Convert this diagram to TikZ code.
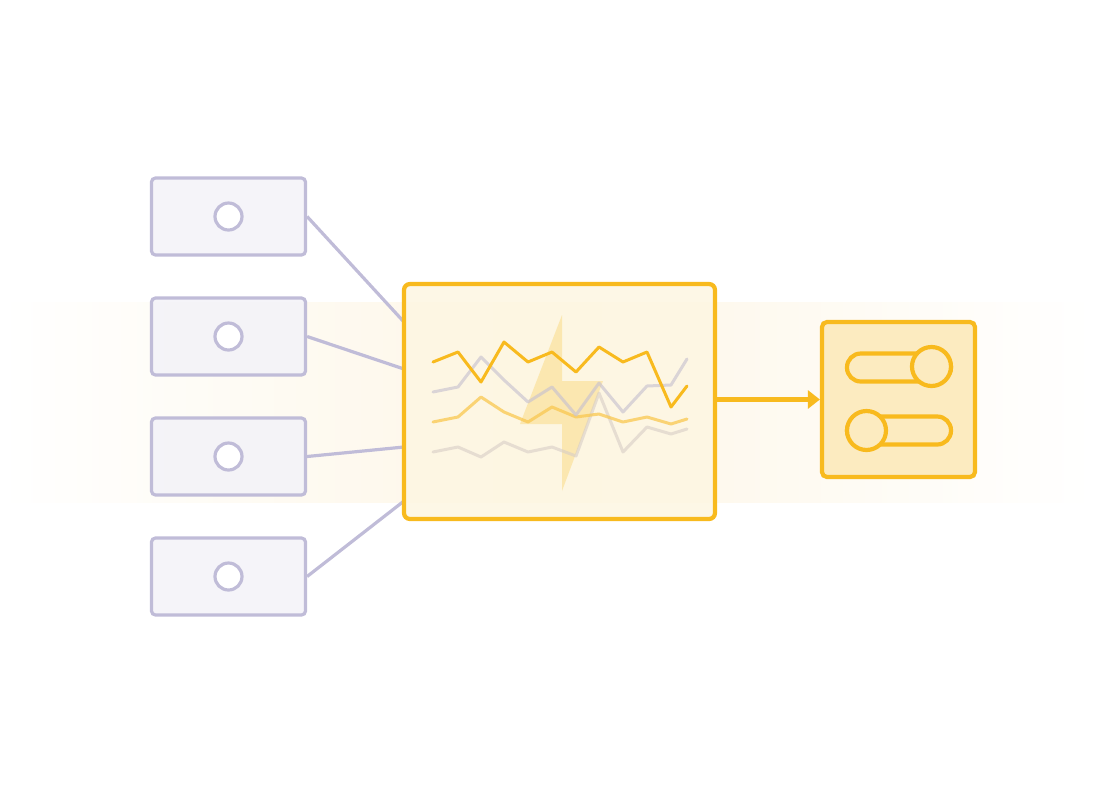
\documentclass[tikz,border=0pt]{standalone}
\usepackage{tikz}
\usetikzlibrary{arrows.meta, positioning}
\usepackage{xcolor}
\definecolor{srcline}{RGB}{192,188,216}
\definecolor{srcfill}{RGB}{244,243,248}
\definecolor{amber}{RGB}{248,186,30}
\definecolor{bandcream}{RGB}{253,246,230}
\definecolor{panelcream}{RGB}{253,246,226}
\definecolor{ctrlfill}{RGB}{252,235,192}
\definecolor{boltyellow}{RGB}{250,220,135}
\definecolor{greyline}{RGB}{200,194,208}
\definecolor{softyellow}{RGB}{249,200,80}
\definecolor{sandline}{RGB}{215,205,198}

\begin{document}
\begin{tikzpicture}[x=0.5pt, y=-0.5pt,
    srcbox/.style={draw=srcline, fill=srcfill, fill opacity=0.92, line width=1.6pt,
      rounded corners=2pt, minimum width=77pt, minimum height=38.5pt, inner sep=0pt},
    srcdot/.style={circle, draw=srcline, fill=white, line width=1.6pt,
      minimum size=13.5pt, inner sep=0pt},
    feed/.style={draw=srcline, line width=1.6pt},
    series/.style={line width=1.5pt, line join=round, line cap=round}]
  \useasboundingbox (0,0) rectangle (1094,800);
  % faded band behind everything
  \shade[left color=white, right color=white, middle color=bandcream]
    (0,302) rectangle (1094,502);

  % input sources
  \foreach \i/\y in {1/216.5,2/336.5,3/456.5,4/576.5} {
    \node[srcbox] (src\i) at (228.5,\y) {};
    \node[srcdot] (dot\i) at (src\i.center) {};
  }
  \foreach \i/\y in {1/322,2/369,3/447,4/501}
    \coordinate (in\i) at (404,\y);
  \foreach \i in {1,...,4}
    \draw[feed] (src\i.east) -- (in\i);

  % monitor panel
  \node[draw=amber, fill=panelcream, fill opacity=0.85, line width=2.1pt,
    rounded corners=3pt, minimum width=155.5pt, minimum height=117.5pt,
    inner sep=0pt] (panel) at (559.5,401.5) {};
  \fill[boltyellow, opacity=0.55] (562,315) -- (562,381) -- (603,381)
    -- (562,491) -- (562,424) -- (520,424) -- cycle;
  \draw[series, sandline, opacity=0.6] (433,452) -- (458,447) -- (481,457)
    -- (504,442) -- (528,452) -- (552,447) -- (576,456) -- (599,393)
    -- (623,452) -- (647,427) -- (671,434) -- (687,429);
  \draw[series, softyellow, opacity=0.75] (433,422) -- (458,417) -- (481,397)
    -- (504,412) -- (528,422) -- (552,407) -- (576,417) -- (599,414)
    -- (623,422) -- (647,417) -- (671,424) -- (687,419);
  \draw[series, greyline, opacity=0.65] (433,392) -- (458,387) -- (481,357)
    -- (504,380) -- (528,402) -- (552,387) -- (576,415) -- (599,383)
    -- (623,412) -- (647,386) -- (671,385) -- (687,359);
  \draw[series, amber] (433,362) -- (458,352) -- (481,382) -- (504,342)
    -- (528,362) -- (552,352) -- (576,372) -- (599,347) -- (623,362)
    -- (647,352) -- (671,407) -- (687,386);

  % controls
  \node[draw=amber, fill=ctrlfill, line width=2.1pt, rounded corners=2.5pt,
    minimum width=76.5pt, minimum height=77.5pt, inner sep=0pt]
    (ctrl) at (898.5,399.5) {};
  \draw[amber, line width=2.1pt, fill=ctrlfill, rounded corners=6.9pt]
    (847,353.5) rectangle (951,381.5);
  \draw[amber, line width=2.1pt, fill=ctrlfill] (931.5,366.5) circle (19.5);
  \draw[amber, line width=2.1pt, fill=ctrlfill, rounded corners=6.9pt]
    (847,416.5) rectangle (951,444.5);
  \draw[amber, line width=2.1pt, fill=ctrlfill] (866.5,430.5) circle (19.5);

  \draw[amber, line width=2.1pt, -{Triangle[length=6pt, width=9pt]}]
    (panel.east |- ctrl.west) -- (ctrl.west);
\end{tikzpicture}
\end{document}
